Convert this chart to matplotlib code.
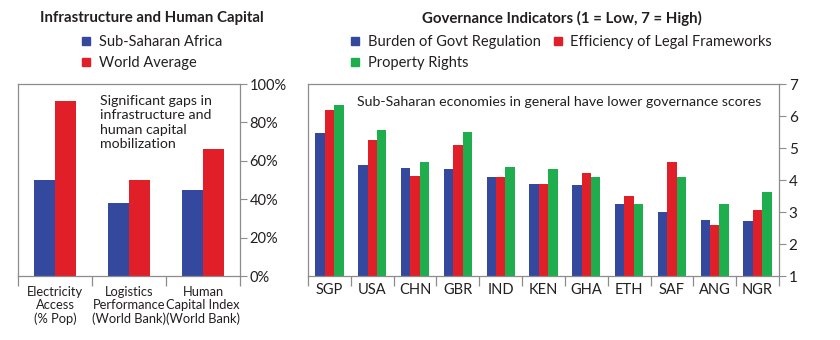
import matplotlib
matplotlib.use("Agg")
import matplotlib.pyplot as plt
from matplotlib.lines import Line2D
import numpy as np

plt.rcParams['font.family'] = ['Lato', 'DejaVu Sans']

# Infrastructure and human capital (percent)
infra_categories = ["Electricity\nAccess\n(% Pop)", "Logistics\nPerformance\n(World Bank)",
                    "Human\nCapital Index\n(World Bank)"]
ssa_values = [50, 38, 45]
world_values = [91, 50, 66]

# Governance indicators (1 = Low, 7 = High)
countries = ["SGP", "USA", "CHN", "GBR", "IND", "KEN", "GHA", "ETH", "SAF", "ANG", "NGR"]
govt_regulation = [5.46, 4.46, 4.38, 4.33, 4.10, 3.86, 3.84, 3.24, 3.00, 2.75, 2.71]
legal_efficiency = [6.19, 5.26, 4.12, 5.08, 4.10, 3.86, 4.21, 3.50, 4.55, 2.59, 3.05]
property_rights = [6.35, 5.55, 4.56, 5.49, 4.41, 4.34, 4.10, 3.26, 4.08, 3.24, 3.63]

BLUE = "#34499d"
RED = "#e01f28"
GREEN = "#1fae4e"
GRID = "#8c8c8c"
TEXT = "#231f20"

fig = plt.figure(figsize=(8.4, 3.4), dpi=100)
W, H = 840, 340


def axes_px(x0, x1, ytop, ybot):
    return fig.add_axes([x0 / W, 1 - ybot / H, (x1 - x0) / W, (ybot - ytop) / H])


def style_axes(ax, n):
    for s in ax.spines.values():
        s.set_color(GRID)
        s.set_linewidth(0.9)
    ax.yaxis.tick_right()
    ax.tick_params(axis="y", which="major", direction="out", length=5, color=GRID,
                   labelcolor=TEXT, pad=2)
    ax.set_xlim(0, n)
    ax.set_xticks(np.arange(n) + 0.5)
    ax.set_xticks(np.arange(n + 1), minor=True)
    ax.tick_params(axis="x", which="major", length=0, labelcolor=TEXT)
    ax.tick_params(axis="x", which="minor", length=7, color=GRID, width=0.9)


# Left panel
ax1 = axes_px(18, 240, 84, 276)
x = np.arange(len(infra_categories)) + 0.5
bw = 0.285
ax1.bar(x - bw / 2, ssa_values, bw, color=BLUE)
ax1.bar(x + bw / 2, world_values, bw, color=RED)
ax1.set_ylim(0, 100)
style_axes(ax1, len(infra_categories))
ax1.set_yticks(np.arange(0, 101, 20))
ax1.set_yticklabels([f"{v}%" for v in range(0, 101, 20)], fontsize=10.5)
ax1.set_xticklabels(infra_categories, fontsize=9.3, linespacing=1.15)
ax1.tick_params(axis="x", which="major", pad=7)
ax1.text(0.37, 0.945, "Significant gaps in\ninfrastructure and\nhuman capital\nmobilization",
         transform=ax1.transAxes, fontsize=10.2, va="top", ha="left", color=TEXT,
         linespacing=1.25)

# Right panel
ax2 = axes_px(308, 779, 84, 276)
x = np.arange(len(countries)) + 0.5
bw = 0.22
ax2.bar(x - bw, govt_regulation, bw, color=BLUE)
ax2.bar(x, legal_efficiency, bw, color=RED)
ax2.bar(x + bw, property_rights, bw, color=GREEN)
ax2.set_ylim(1, 7)
style_axes(ax2, len(countries))
ax2.set_yticks(range(1, 8))
ax2.set_yticklabels([str(v) for v in range(1, 8)], fontsize=11)
ax2.set_xticklabels(countries, fontsize=10.5)
ax2.tick_params(axis="x", which="major", pad=5)
ax2.text(0.105, 0.905, "Sub-Saharan economies in general have lower governance scores",
         transform=ax2.transAxes, fontsize=10.2, va="center", ha="left", color=TEXT)

# Titles
fig.text(152 / W, 1 - 18 / H, "Infrastructure and Human Capital", fontsize=10.8,
         fontweight="bold", ha="center", va="center", color=TEXT)
fig.text(562 / W, 1 - 18 / H, "Governance Indicators (1 = Low, 7 = High)", fontsize=10.8,
         fontweight="bold", ha="center", va="center", color=TEXT)


def handle(c):
    return Line2D([], [], marker="s", linestyle="none", markersize=6, color=c)


legend_kw = dict(frameon=False, fontsize=10.5, handlelength=0.8, handletextpad=0.45,
                 labelspacing=0.45, borderpad=0, labelcolor=TEXT)
fig.legend([handle(BLUE), handle(RED)], ["Sub-Saharan Africa", "World Average"],
           loc="upper left", bbox_to_anchor=(73 / W, 1 - 28 / H), **legend_kw)
fig.legend([handle(BLUE), handle(GREEN), handle(RED)],
           ["Burden of Govt Regulation", "Property Rights", "Efficiency of Legal Frameworks"],
           loc="upper left", bbox_to_anchor=(342 / W, 1 - 28 / H), ncol=2,
           columnspacing=0.8, **legend_kw)

fig.savefig("out.png", dpi=100)
